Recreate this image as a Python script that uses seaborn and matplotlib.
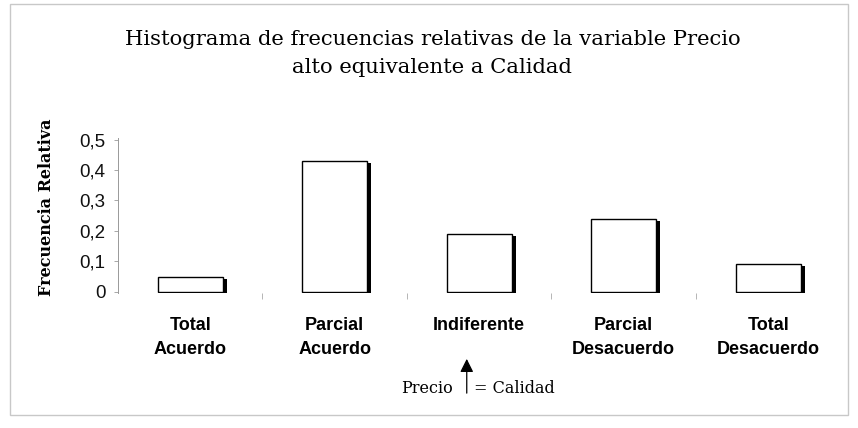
import seaborn as sns
import pandas as pd
import matplotlib.pyplot as plt
import matplotlib.patheffects as pe
from matplotlib.patches import Rectangle, FancyArrowPatch

categorias = ["Total\nAcuerdo", "Parcial\nAcuerdo", "Indiferente", "Parcial\nDesacuerdo", "Total\nDesacuerdo"]
frecuencia = [0.05, 0.43, 0.19, 0.24, 0.09]
yticks = [0, 0.1, 0.2, 0.3, 0.4, 0.5]
ytick_labels = ["0", "0,1", "0,2", "0,3", "0,4", "0,5"]

data = pd.DataFrame({"Categoria": categorias, "Frecuencia": frecuencia})

sns.set_style("white")
plt.rcParams["font.family"] = ["Liberation Sans", "DejaVu Sans"]
plt.rcParams["text.color"] = "black"
serif = ["DejaVu Serif", "Liberation Serif"]

fig = plt.figure(figsize=(8.58, 4.28), dpi=100)
ax = fig.add_axes([0.1375, 0.3154, 0.842, 0.3622])

sns.barplot(data, x="Categoria", y="Frecuencia", color="white", edgecolor="black",
            linewidth=1.0, width=0.45, ax=ax, saturation=1)
# sombra negra a la derecha de cada barra
for p in ax.patches:
    p.set_path_effects([pe.SimplePatchShadow(offset=(3, -1.5), shadow_rgbFace="black", alpha=1), pe.Normal()])

ax.set_ylim(-0.004, 0.505)
ax.set_yticks(yticks)
ax.set_yticklabels(ytick_labels, fontsize=13.5, color="#111111")
ax.tick_params(axis="y", length=3, width=0.6, color="#999999", left=True, pad=6)
ax.set_xticks([0.5, 1.5, 2.5, 3.5], minor=True)
ax.tick_params(axis="x", which="minor", length=4, width=0.6, color="#aaaaaa", bottom=True, direction="out")
ax.tick_params(axis="x", which="major", length=0, pad=17)
for lbl in ax.get_xticklabels():
    lbl.set_fontsize(13)
    lbl.set_fontweight("bold")
    lbl.set_linespacing(1.6)
    lbl.set_verticalalignment("top")
    lbl.set_color("black")

for s in ["top", "right", "bottom"]:
    ax.spines[s].set_visible(False)
ax.spines["left"].set_color("#999999")
ax.spines["left"].set_linewidth(0.7)

ax.set_xlabel("")
ax.set_ylabel("Frecuencia Relativa", family=serif, fontsize=11.5, color="black",
              fontweight="bold", labelpad=14)
ax.yaxis.set_label_coords(-0.087, 0.55)

fig.text(0.504, 0.875, "Histograma de frecuencias relativas de la variable Precio\nalto equivalente a Calidad",
         ha="center", va="center", fontsize=15.2, family=serif, linespacing=1.6)

# anotacion inferior
fig.text(0.528, 0.092, "Precio", ha="right", va="center", fontsize=11.5, family=serif)
fig.text(0.553, 0.092, "= Calidad", ha="left", va="center", fontsize=11.5, family=serif)
fig.patches.append(FancyArrowPatch(
    (0.544, 0.075), (0.544, 0.168), transform=fig.transFigure, arrowstyle="-|>",
    mutation_scale=20, color="black", linewidth=0.9))

fig.patches.append(Rectangle((0.012, 0.03), 0.976, 0.96, transform=fig.transFigure,
                             fill=False, edgecolor="#c8c8c8", linewidth=1.0))

fig.savefig("out.png", dpi=100)
